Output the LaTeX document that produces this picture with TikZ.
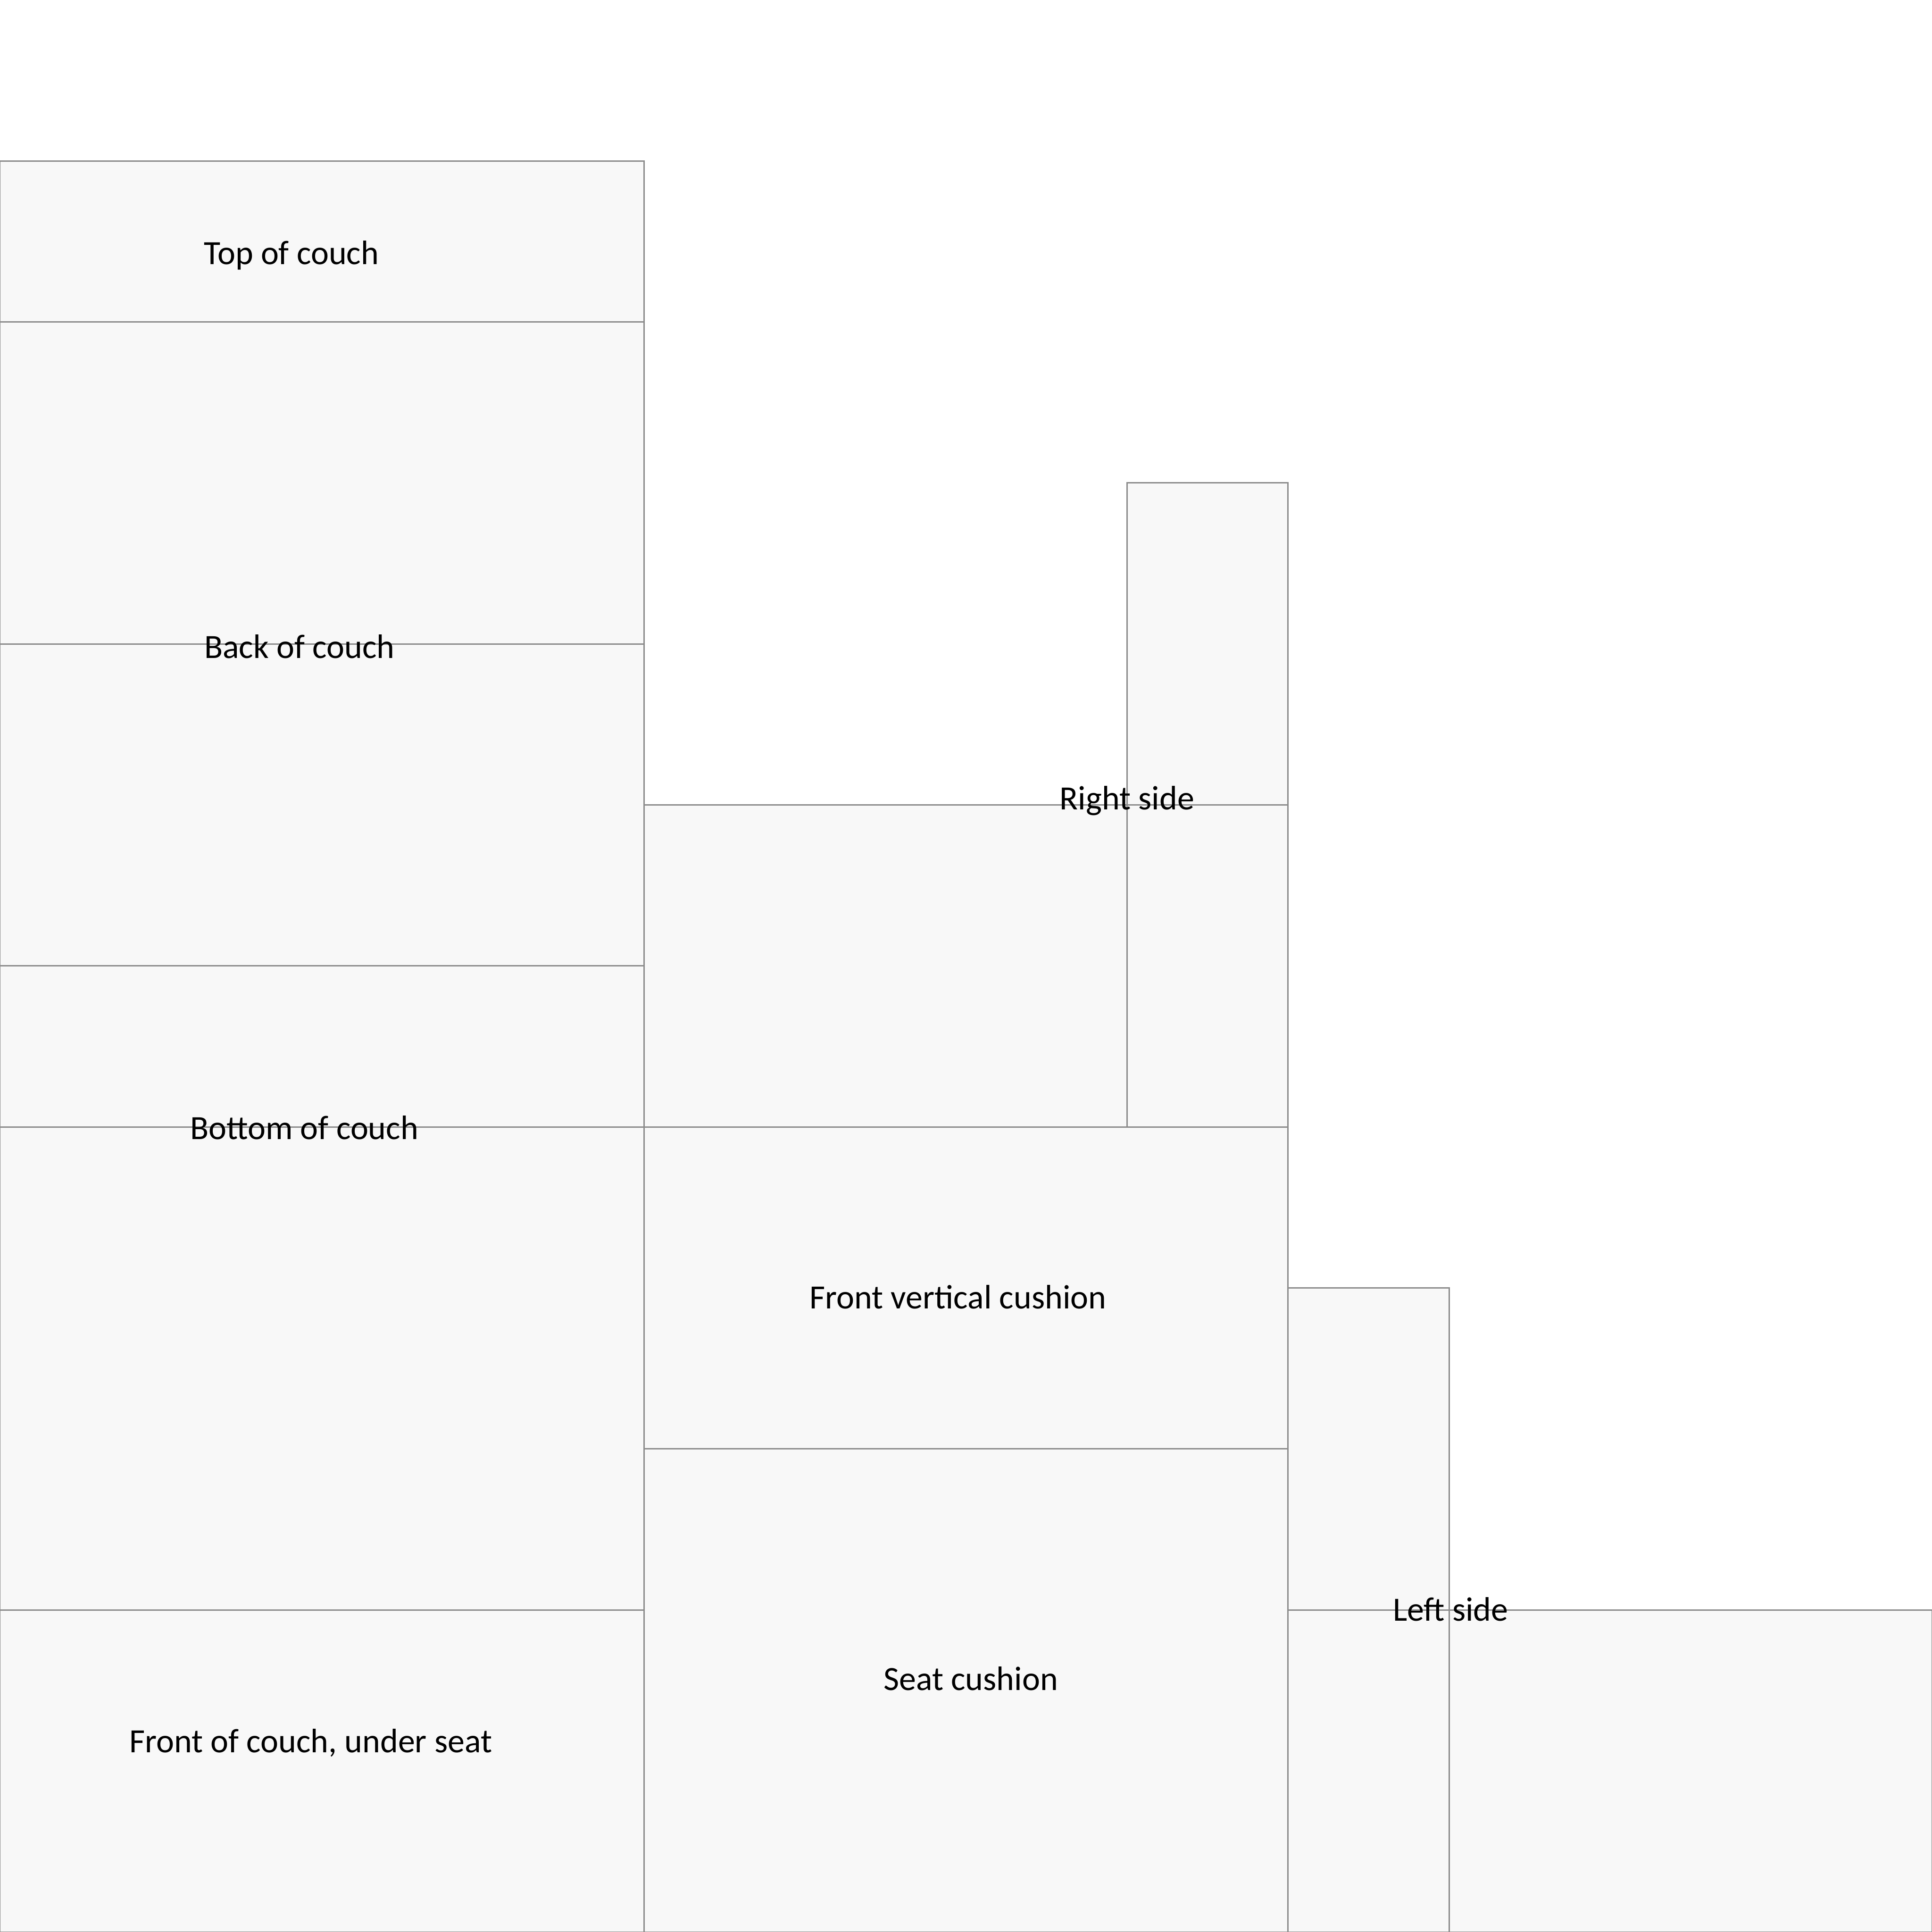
\documentclass[tikz,border=0pt]{standalone}
\usepackage{fontspec}
\setmainfont{Carlito}
\definecolor{panelfill}{HTML}{F8F8F8}
\definecolor{paneledge}{HTML}{8C8C8C}
\tikzset{
  panel/.style={fill=panelfill,draw=paneledge,line width=0.25pt},
  lbl/.style={font=\fontsize{6.0}{7.2}\selectfont,inner sep=0pt,text=black}
}
\begin{document}
\begin{tikzpicture}
\useasboundingbox (0,0) rectangle (12,12);
% left column
\draw[panel] (0,11) rectangle (4,10);
\draw[panel] (0,10) rectangle (4,8);
\draw[panel] (0,8) rectangle (4,6);
\draw[panel] (0,6) rectangle (4,5);
\draw[panel] (0,5) rectangle (4,2);
\draw[panel] (0,2) rectangle (4,0);
% middle column
\draw[panel] (4,7) rectangle (7,5);
\draw[panel] (7,9) rectangle (8,7);
\draw[panel] (7,7) rectangle (8,5);
\draw[panel] (4,5) rectangle (8,3);
\draw[panel] (4,3) rectangle (8,0);
% right column
\draw[panel] (8,4) rectangle (9,2);
\draw[panel] (8,2) rectangle (9,0);
\draw[panel] (9,2) rectangle (12,0);
% labels
\node[lbl] (top) at (1.81,10.415) {Top of couch};
\node[lbl] (back) at (1.86,7.985) {Back of couch};
\node[lbl] (bottom) at (1.89,4.995) {Bottom of couch};
\node[lbl] (front) at (1.93,1.175) {Front of couch, under seat};
\node[lbl] (right) at (7.0,7.025) {Right side};
\node[lbl] (fvc) at (5.95,3.945) {Front vertical cushion};
\node[lbl] (seat) at (6.03,1.575) {Seat cushion};
\node[lbl] (left) at (9.01,2.005) {Left side};
\end{tikzpicture}
\end{document}
